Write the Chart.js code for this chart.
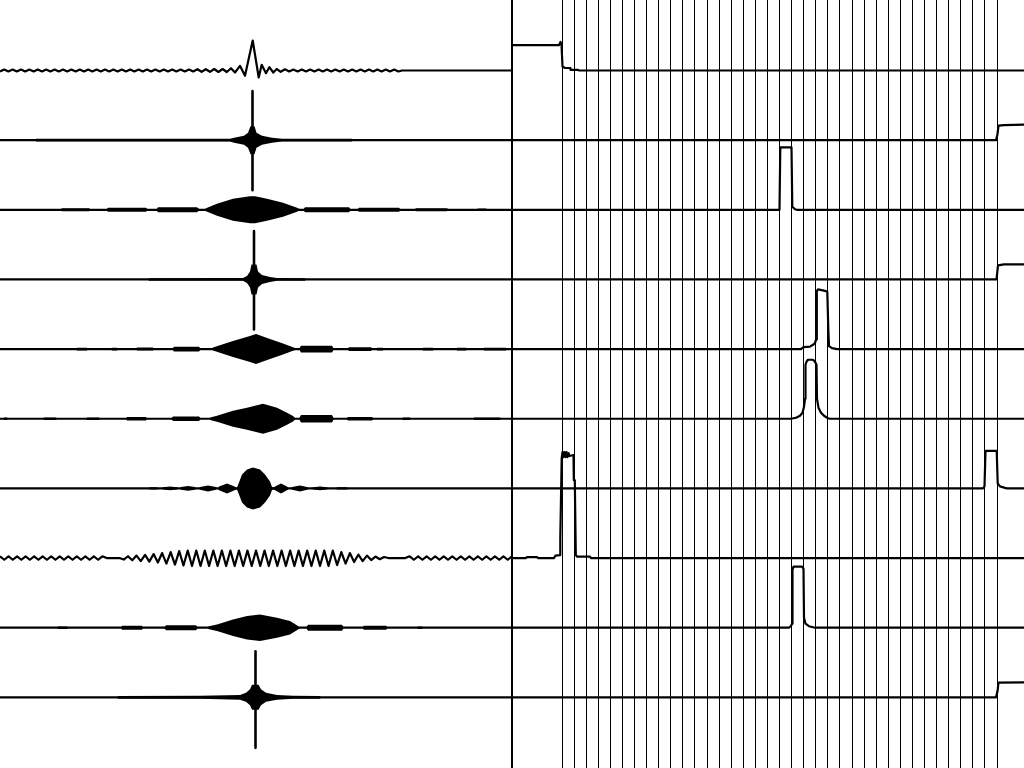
<!DOCTYPE html>
<html><head><meta charset="utf-8">
<script src="https://cdn.jsdelivr.net/npm/chart.js@4.4.1/dist/chart.umd.min.js"></script>
<style>html,body{margin:0;padding:0;background:#fff;overflow:hidden}#wrap{width:1024px;height:768px}</style>
</head><body><div id="wrap"><canvas id="c" width="1024" height="768"></canvas></div>
<script>
// ---------- DATA (time domain: [sample, amplitude]; spectra: [bin, magnitude]) ----------
const bandEdges = [50,62.1,74.2,86.3,98.3,110.4,122.5,134.6,146.7,158.8,170.8,182.9,195,207.1,219.2,231.3,243.3,255.4,267.5,279.6,291.7,303.8,315.8,327.9,340,352.1,364.2,376.3,388.3,400.4,412.5,424.6,436.7,448.8,460.8,472.9,485];

const flatTrace = [[0,0],[512,0]];

const row1Wave = [[0,-1],[4.2,1],[8.4,-1],[12.6,1],[16.8,-1],[21,1],[25.2,-1],[29.4,1],[33.6,-1],[37.8,1],[42,-1],[46.2,1],[50.4,-1],[54.6,1],[58.8,-1],[63,1],[67.2,-1],[71.4,1],[75.6,-1],[79.8,1],[84,-1],[88.2,1],[92.4,-1],[96.6,1],[100.8,-1],[105,1],[109.2,-1],[113.4,1],[117.6,-1],[121.8,1],[126,-1],[130.2,1],[134.4,-1],[138.6,1],[142.8,-1],[147,1],[151.2,-1],[155.4,1],[159.6,-1],[163.8,1],[168,-1],[172.2,1],[176.4,-1],[180.6,1],[184.8,-1],[189,1],[193.2,-1],[197.4,1.3],[201.6,-1.3],[205.8,1.3],[210,-1.3],[214.2,1.5],[218.4,-1.5],[222.6,1.5],[226.8,-1.5],
 [231,2.3],[235,-2],[240,4.7],[245,-5.3],[252.7,30],[258.7,-7],[261.7,5.7],[266,-2.7],[269.3,3.3],[273.3,-2],[276.7,1.5],[280.7,-1.3],[285,1.2],
 [289.2,-1],[293.4,1],[297.6,-1],[301.8,1],[306,-1],[310.2,1],[314.4,-1],[318.6,1],[322.8,-1],[327,1],[331.2,-1],[335.4,1],[339.6,-1],[343.8,1],[348,-1],[352.2,1],[356.4,-1],[360.6,1],[364.8,-1],[369,1],[373.2,-1],[377.4,1],[381.6,-1],[385.8,1],[390,-1],[394.2,1],[398.4,-1],[402,0],[512,0]];

const row2Env = [[35,0],[36,1.3],[230,1.4],[234,2.5],[244,4.5],[248,7.5],[250.5,14],[254.5,14],[256.5,7.5],[262,4.5],[272,2.5],[282,1.4],[352,1.3],[353,0]];
const row2Spike = [[252.5,49],[252.5,-50]];

const row3Env = [[60,0],[62,1.5],[89,1.5],[91,0],[106,0],[108,2],[146,2],[148,0],[156,0],[158,2.5],[197,2.5],[200,0],[204,0],[206,1.5],[217,6],[233,11],[250,13.5],[255,13.5],[267,11],[283,7],[297,2],[301,0],[303,0],[305,2.5],[349,2.5],[351,0],[357,0],[359,2],[399,2],[401,0],[414,0],[416,1.5],[447,1.5],[449,0],[476,0],[478,1.3],[486,1.3],[488,0]];

const row4Env = [[148,0],[149,1.3],[243,1.4],[247,3.5],[250,8],[251.5,15],[256.5,15],[258,8],[262,4.5],[270,2.5],[277,1.4],[305,1.3],[306,0]];
const row4Spike = [[254,48.3],[254,-50]];

const row5Env = [[76,0],[77,1.3],[87,1.3],[88,0],[111,0],[112,1.3],[117,1.3],[118,0],[136,0],[137,1.5],[153,1.5],[154,0],[172,0],[174,2.3],[199,2.3],[201,0],[211,0],[213,1.5],[233,8],[250,13],[256,15],[270,10],[283,5.5],[295,1],[297,0],[299,0],[301,3.3],[332,3.3],[334,0],[347,0],[349,1.8],[371,1.8],[373,0],[376,0],[377,1.3],[383,1.3],[384,0],[422,0],[423,1.3],[433,1.3],[434,0],[456,0],[457,1.3],[466,1.3],[467,0],[483,0],[484,1.3],[506,1.3],[507,0]];

const row6Env = [[3,0],[4,1.3],[7,1.3],[8,0],[43,0],[44,1.3],[56,1.3],[57,0],[86,0],[87,1.3],[99,1.3],[100,0],[126,0],[127,1.8],[146,1.8],[147,0],[171,0],[173,2.2],[199,2.2],[201,0],[209,0],[211,1.5],[217,3],[233,8],[247,11],[263,15],[277,11],[287,6],[293,2.7],[296,0],[299,0],[301,3.8],[332,3.8],[334,0],[346,0],[348,1.8],[372,1.8],[374,0],[402,0],[403,1.3],[410,1.3],[411,0],[473,0],[474,1.3],[500,1.3],[501,0]];

const row7Env = [[148,0],[150,1.2],[157,1.2],[159,0],[162,0],[163,1.2],[170,1.8],[177,1.2],[178,0],[180,0],[181,1.3],[188,2.3],[195,1.3],[196,0],[199,0],[200,1.3],[208,3],[216,1.3],[217,0],[218,0],[219,1.8],[227,5],[234,2.2],[236,1],[237,1],[239,6],[242,14],[247,19],[253,21],[260,19],[265,14],[270,7],[272,1.5],[274,1],[275,1.8],[281,5],[287,1.8],[289,0],[291,0],[292,1.3],[300,3],[307,1.3],[309,0],[312,0],[313,1.2],[320,1.8],[327,1.2],[328,0],[336,0],[337,1.2],[347,1.2],[348,0]];

// row 8: extrema of the low band signal, one value every half period (sampleStep8 samples)
const row8Wave = [1.7,-1.7,1.7,-1.7,1.7,-1.7,1.7,-1.7,1.7,-1.7,1.7,-1.7,1.7,-1.7,1.7,-1.7,1.7,-1.7,1.7,-1.7,1.7,-1.7,1.7,-1.7,1.7,
 0,0,0,0,
 -1.5,1.8,-2.2,2.5,-3,3.2,-3.6,4,
 -4.5,5,-5.5,6,-6.5,7,-7.5,
 7.5,-8,7.5,-8,7.5,-8,7.5,-8,7.5,-8,7.5,-8,7.5,-8,7.5,-8,7.5,-8,7.5,-8,7.5,-8,7.5,-8,7.5,-8,7.5,-8,7.5,-8,7.5,-8,7.5,-8,7.5,
 -7,6,-5.5,5,-4,3.5,-3,2.5,
 -2,1.5,-1.2,1,
 0,0,0,0,0,
 1.7,-1.7,1.7,-1.7,1.7,-1.7,1.7,-1.7,1.7,-1.7,1.7,-1.7,1.7,-1.7,1.7,-1.7,1.7,-1.7,1.7,-1.7,1.7,-1.7,1.7,-1.7,1.7];
const sampleStep8 = 512 / 120;

const row9Env = [[57,0],[58,1.3],[67,1.3],[68,0],[121,0],[122,2],[142,2],[143,0],[164,0],[166,2.5],[196,2.5],[198,0],[207,0],[209,1.5],[217,3.3],[233,8.3],[247,11.7],[260,13.3],[277,10],[290,6.7],[298,1.7],[300,0],[306,0],[308,3],[342,3],[344,0],[362,0],[364,2],[386,2],[388,0],[417,0],[418,1.3],[422,1.3],[423,0]];

const row10Env = [[117,0],[118,1.3],[200,1.5],[240,2.3],[246,4.5],[250,8],[252,12.5],[258.5,12.5],[261,8],[266,4.5],[277,2.3],[293,1.5],[320,1.3],[321,0]];
const row10Spike = [[255.5,46],[255.5,-50.5]];

const spec1 = [[0,25.3],[47,25.3],[48.5,28.5],[49.5,26],[50.5,4],[53,2.5],[58,2.5],[58.5,0.7],[66,0.7],[67,0],[512,0]];
const spec2 = [[0,0],[484,0],[485.5,6],[486.5,14.5],[492,15],[512,15.5]];
const spec3 = [[0,0],[267.5,0],[268.3,62.5],[279.5,62.5],[280.3,3],[283,0.5],[285,0],[512,0]];
const spec4 = [[0,0],[484.5,0],[486,14],[492,15],[512,15]];
const spec5 = [[0,0],[289,0],[291.5,2],[298,2.5],[301,4.3],[303,6],[304,9.5],[304.8,58],[306,59.7],[312,58.5],[315.3,57.5],[316.3,20],[317,3],[320,1],[325,0],[512,0]];
const spec6 = [[0,0],[279,0],[284,1],[288,3],[290.5,6],[292,12],[293,20],[293.5,54],[294.5,57],[296,59],[301,59],[303,57],[304.5,54],[305,20],[306.5,11],[309,6],[312,3],[316,0.5],[318,0],[512,0]];
const spec7 = [[0,0],[471,0],[472.5,2],[473.5,37.6],[484.7,37.6],[485.7,5],[488,2],[493,0.5],[495,0],[512,0]];
const spec8 = [[0,0],[14,0],[15,1],[25,1],[26,0],[42,0],[43.5,2.5],[48,3],[48.3,20],[49.7,100],[50.5,106],[51.5,101],[52.5,106],[53.5,101],[54.5,106],[55.5,101],[56.5,105],[57.5,102],[61.5,103],[61.8,78],[62.8,78],[63.8,3],[65,1.5],[78,1.5],[79,0],[512,0]];
const spec9 = [[0,0],[277,0],[279,1.5],[280,4],[280.5,58],[281.5,61],[290,61],[291.5,59],[292,10],[293.5,4],[297,1.5],[303,0],[512,0]];
const spec10 = [[0,0],[484,0],[485.5,6],[486.5,14.7],[512,15]];

// ---------- LAYOUT ----------
const ROW_TOP = 70.5, ROW_GAP = 69.65;
const rows = [
  {trace: row1Wave, spec: spec1},
  {trace: flatTrace, env: row2Env, spike: row2Spike, spec: spec2},
  {trace: flatTrace, env: row3Env, spec: spec3},
  {trace: flatTrace, env: row4Env, spike: row4Spike, spec: spec4},
  {trace: flatTrace, env: row5Env, spec: spec5},
  {trace: flatTrace, env: row6Env, spec: spec6},
  {trace: flatTrace, env: row7Env, spec: spec7},
  {trace: row8Wave.map((v, i) => [i * sampleStep8, v]), spec: spec8},
  {trace: flatTrace, env: row9Env, spec: spec9},
  {trace: flatTrace, env: row10Env, spike: row10Spike, spec: spec10}
];

const datasets = [];
function ds(points, i, axis, width, sign) {
  const o = -i * ROW_GAP, s = sign || 1;
  return {xAxisID: axis, yAxisID: 'y', data: points.map(p => ({x: p[0], y: o + s * p[1]})),
    borderColor: width ? '#000' : 'rgba(0,0,0,0)', borderWidth: width, pointRadius: 0, tension: 0, fill: false,
    borderJoinStyle: 'round', borderCapStyle: 'butt'};
}
rows.forEach((r, i) => {
  if (r.spike) datasets.push(ds(r.spike, i, 'xTime', 2.6));
  datasets.push(ds(r.trace, i, 'xTime', 2.2));
  if (r.env) {
    const up = ds(r.env, i, 'xTime', 0, 1);
    up.fill = '+1'; up.backgroundColor = '#000';
    datasets.push(up);
    datasets.push(ds(r.env, i, 'xTime', 0, -1));
  }
  datasets.push(ds(r.spec, i, 'xFreq', 2.2));
});

new Chart(document.getElementById('c'), {
  type: 'line',
  data: {datasets},
  options: {
    responsive: false, animation: false, devicePixelRatio: 1, events: [],
    layout: {padding: 0},
    plugins: {legend: {display: false}, tooltip: {enabled: false}, title: {display: false}},
    scales: {
      xTime: {type: 'linear', position: 'bottom', display: false, min: 0, max: 1024},
      xFreq: {type: 'linear', position: 'bottom', display: true, min: -512, max: 512,
        ticks: {display: false},
        border: {display: false},
        grid: {drawTicks: false, color: '#000', lineWidth: c => (c.tick && c.tick.value === 0 ? 2 : 1)},
        afterBuildTicks: s => { s.ticks = [0].concat(bandEdges).map(v => ({value: v})); }
      },
      y: {type: 'linear', display: false, min: ROW_TOP - 768, max: ROW_TOP}
    }
  }
});
</script></body></html>
